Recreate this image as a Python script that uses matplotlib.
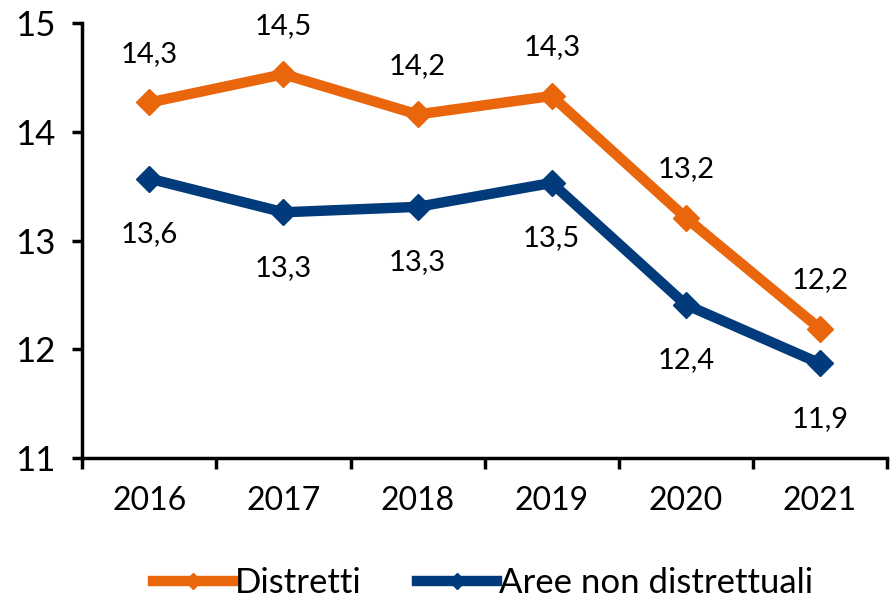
import matplotlib
matplotlib.use("Agg")
import matplotlib.pyplot as plt

plt.rcParams['font.family'] = ['Lato', 'DejaVu Sans']

anni = ['2016', '2017', '2018', '2019', '2020', '2021']
distretti = [14.27, 14.53, 14.16, 14.33, 13.21, 12.19]
non_distretti = [13.57, 13.26, 13.31, 13.53, 12.41, 11.87]

arancio = '#EA660C'
blu = '#023B7B'

fig = plt.figure(figsize=(8.95, 6.09), dpi=100)
ax = fig.add_axes([0.092, 0.248, 0.899, 0.714])

x = list(range(len(anni)))
ax.plot(x, distretti, color=arancio, lw=7.5, marker='D', ms=13, label='Distretti')
ax.plot(x, non_distretti, color=blu, lw=7.5, marker='D', ms=13, label='Aree non distrettuali')

# etichette dei valori: sopra per i distretti, sotto per le altre aree
for xi, v in zip(x, distretti):
    ax.annotate(f'{v:.1f}'.replace('.', ','), (xi, v), xytext=(0, 35),
                textcoords='offset points', ha='center', va='center', fontsize=21)
for xi, v in zip(x, non_distretti):
    ax.annotate(f'{v:.1f}'.replace('.', ','), (xi, v), xytext=(0, -40),
                textcoords='offset points', ha='center', va='center', fontsize=21)

ax.set_xlim(-0.5, len(anni) - 0.5)
ax.set_ylim(11, 15)
ax.set_yticks([11, 12, 13, 14, 15])
ax.set_xticks([i - 0.5 for i in range(len(anni) + 1)])
ax.set_xticklabels([])
ax.set_xticks(x, minor=True)
ax.set_xticklabels(anni, minor=True)
ax.tick_params(axis='x', which='minor', length=0, pad=20, labelsize=23)
ax.tick_params(axis='x', which='major', length=8, width=2.5)
ax.tick_params(axis='y', length=7, width=2.5, labelsize=25, pad=12)

for s in ['top', 'right']:
    ax.spines[s].set_visible(False)
for s in ['left', 'bottom']:
    ax.spines[s].set_linewidth(2.5)

fig.legend(loc='lower center', bbox_to_anchor=(0.54, -0.035), ncol=2, frameon=False,
           fontsize=25, handlelength=2.3, handletextpad=0.05, columnspacing=1.6,
           markerscale=0.6)

fig.savefig('out.png', dpi=100)
